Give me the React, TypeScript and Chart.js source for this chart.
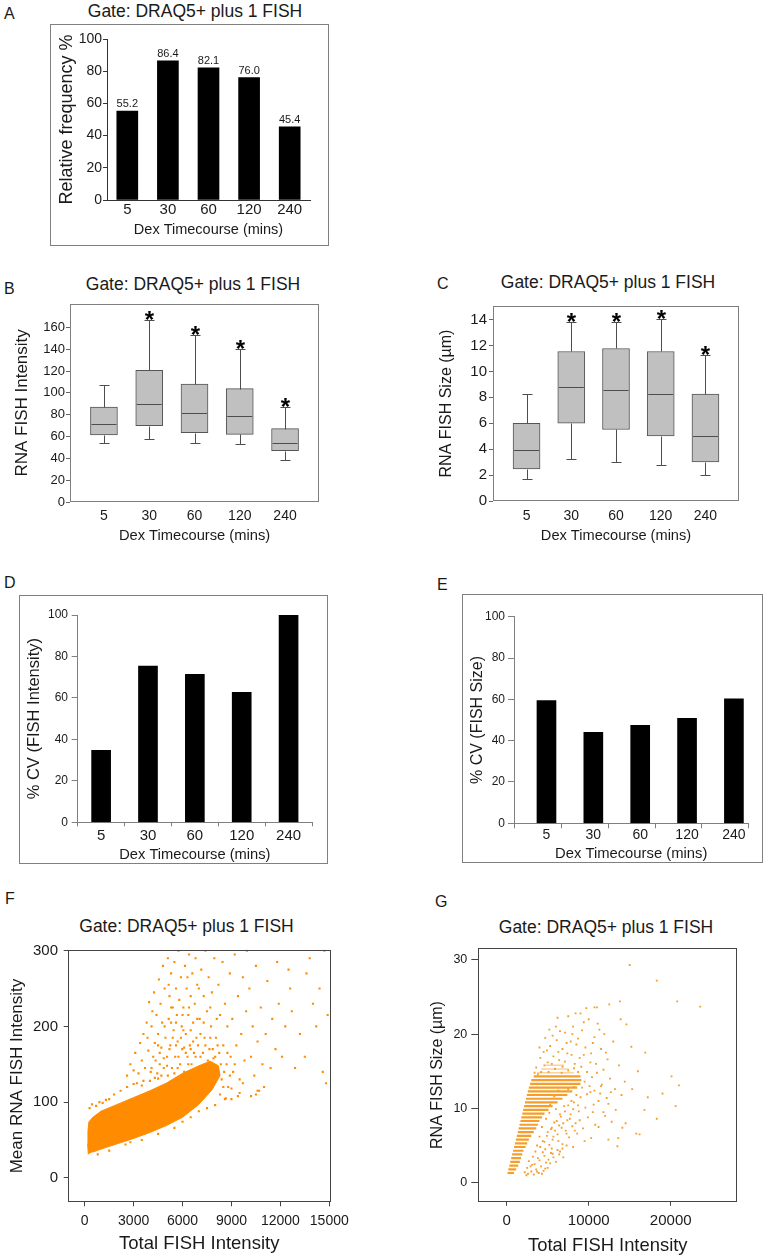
import React, { useEffect, useRef } from 'react';
import { Chart, registerables } from 'chart.js';

Chart.register(...registerables);

const FONT = "'Liberation Sans', Arial, Helvetica, sans-serif";
const TXT = '#1a1a1a';
Chart.defaults.font.family = FONT;
Chart.defaults.color = TXT;

// ---------------- data ----------------
const timeLabels = ['5', '30', '60', '120', '240'];
const relFrequency = [55.2, 86.4, 82.1, 76.0, 45.4];

const intensityLow = [54.2, 57.8, 54.2, 53.0, 38.9];
const intensityQ1 = [61.5, 69.9, 63.6, 62.0, 47.0];
const intensityMedian = [71.7, 89.5, 81.3, 78.6, 54.2];
const intensityQ3 = [87.0, 120.8, 108.2, 104.0, 67.2];
const intensityHigh = [107.0, 167.0, 152.8, 140.7, 86.8];
const intensitySignificant = [false, true, true, true, true];

const sizeLow = [1.7, 3.26, 2.99, 2.76, 2.0];
const sizeQ1 = [2.48, 6.0, 5.52, 5.02, 3.01];
const sizeMedian = [3.96, 8.78, 8.53, 8.25, 4.99];
const sizeQ3 = [6.0, 11.54, 11.77, 11.54, 8.25];
const sizeHigh = [8.25, 13.8, 13.8, 14.05, 11.29];
const sizeSignificant = [false, true, true, true, true];

const cvIntensity = [34.7, 75.4, 71.4, 62.7, 100];
const cvSize = [59.4, 44.0, 47.4, 50.8, 60.3];

const intensityTicks = [0, 20, 40, 60, 80, 100, 120, 140, 160];
const sizeTicks = [0, 2, 4, 6, 8, 10, 12, 14];
const fXTicks = [0, 3000, 6000, 9000, 12000, 15000];
const fYTicks = [0, 100, 200, 300];
const gXTicks = [0, 10000, 20000];
const gYTicks = [0, 10, 20, 30];

// Panel F: outline of the solid cell cloud and scattered cells
const fCloudOutline: [number, number][] = [
  [220, 31], [180, 45], [200, 62], [260, 74], [500, 80], [1000, 88], [2000, 97], [3000, 106],
  [4000, 115], [5000, 125], [6000, 138], [7000, 148], [7700, 154], [8200, 148], [8300, 135],
  [7800, 116], [7000, 97], [6000, 80], [5000, 69], [4000, 60], [3000, 52], [2000, 45], [1000, 38], [500, 34],
];
const fScatter: [number, number][] = [
  [300, 92], [450, 97], [700, 95], [900, 100], [1100, 99], [1300, 103], [1500, 104], [1800, 110],
  [2200, 115], [2600, 120], [3000, 124], [3500, 122], [4000, 128], [4500, 131],
  [800, 31], [1500, 36], [2500, 44], [2800, 47], [3500, 50], [4500, 58], [5500, 66], [6000, 74],
  [6500, 80], [7000, 88], [7500, 92], [8000, 96], [8600, 104], [9000, 104], [9500, 112],
  [10200, 108], [10600, 115], [11000, 120],
  [2600, 135], [2800, 150], [3000, 142], [3100, 165], [3300, 138], [3400, 178], [3500, 155],
  [3600, 190], [3700, 145], [3800, 205], [3900, 168], [3950, 232], [3200, 125], [3600, 128], [3850, 185],
  [4050, 140], [4100, 200], [4200, 160], [4250, 245], [4300, 178], [4400, 215], [4450, 138],
  [4500, 190], [4550, 262], [4600, 150], [4650, 230], [4700, 172], [4750, 205], [4800, 280],
  [4850, 145], [4900, 250], [4950, 185], [4300, 132], [4700, 135], [4150, 220],
  [5050, 160], [5100, 290], [5150, 210], [5200, 240], [5250, 175], [5300, 270], [5350, 145],
  [5400, 225], [5450, 195], [5500, 285], [5550, 160], [5600, 250], [5650, 215], [5700, 180],
  [5750, 300], [5800, 235], [5850, 150], [5900, 265], [5950, 200], [5100, 135], [5500, 138],
  [5300, 205], [5700, 145], [5980, 170],
  [6050, 225], [6100, 140], [6150, 280], [6200, 190], [6250, 250], [6300, 160], [6350, 215],
  [6400, 295], [6450, 175], [6500, 240], [6550, 150], [6600, 270], [6650, 205], [6700, 165],
  [6750, 230], [6800, 290], [6850, 185], [6900, 255], [6950, 145], [6100, 172], [6500, 195], [6800, 135],
  [7050, 210], [7100, 160], [7150, 275], [7200, 140], [7300, 240], [7350, 185], [7400, 300],
  [7450, 150], [7500, 220], [7600, 265], [7650, 170], [7700, 135], [7750, 200], [7800, 245],
  [7900, 158], [7950, 290], [7250, 125], [7850, 120],
  [8050, 185], [8100, 140], [8200, 255], [8250, 165], [8300, 215], [8400, 130], [8450, 285],
  [8500, 175], [8600, 230], [8700, 150], [8750, 200], [8800, 120], [8900, 270], [8950, 160],
  [8300, 110], [8650, 105],
  [9050, 210], [9100, 140], [9200, 295], [9300, 175], [9400, 240], [9500, 130], [9600, 190],
  [9700, 265], [9800, 155], [9900, 220], [9950, 300], [9400, 108],
  [10100, 250], [10200, 160], [10300, 200], [10400, 135], [10500, 280], [10600, 180],
  [10700, 115], [10800, 225], [10900, 150], [10500, 110],
  [11100, 190], [11200, 260], [11400, 145], [11500, 210], [11700, 170], [11800, 285], [11900, 230],
  [12100, 160], [12300, 200], [12500, 275], [12700, 220], [12900, 145], [12600, 250],
  [13200, 190], [13500, 160], [13800, 290], [14000, 230], [14200, 200], [14400, 250], [14600, 140],
  [14700, 300], [14900, 215], [14800, 125], [13600, 270],
  [4100, 145], [4350, 155], [4600, 165], [4850, 158], [5050, 148], [5200, 170], [5400, 185],
  [5600, 175], [5750, 160], [5900, 185], [6050, 195], [6200, 165], [6350, 150], [6500, 170],
  [6650, 180], [6800, 160], [6950, 175], [7100, 190], [7250, 165], [7400, 175], [7550, 155],
  [7700, 185], [7850, 170], [8000, 160], [8150, 175], [8350, 150], [8550, 140], [8750, 165],
  [5600, 205], [6000, 215], [6400, 225], [6900, 210], [7300, 205], [7700, 225], [8100, 210],
  [4500, 175], [4900, 200], [5300, 225], [5150, 255], [6300, 265], [7000, 250],
  [8500, 120], [9000, 118], [9700, 125], [7600, 132], [8900, 135], [9200, 150],
];

// Panel G: quantised size rows (size, start, end of the solid run) and scattered cells
const gRowSize = [1.3, 1.8, 2.3, 2.8, 3.3, 3.8, 4.3, 4.8, 5.3, 5.8, 6.3, 6.8, 7.3, 7.8, 8.3, 8.8, 9.3, 9.8, 10.3, 10.8, 11.3, 11.8, 12.3, 12.8, 13.3, 13.8, 14.3];
const gRowStart = [100, 200, 320, 430, 550, 660, 780, 900, 1000, 1120, 1230, 1350, 1450, 1560, 1680, 1790, 1900, 2000, 2120, 2230, 2350, 2450, 2570, 2700, 2850, 3000, 3300];
const gRowEnd = [900, 1150, 1400, 1600, 1750, 1900, 2050, 2300, 2500, 2700, 3000, 3300, 3600, 3800, 4000, 4300, 4600, 5100, 5600, 6200, 6800, 7400, 8000, 8600, 9000, 9100, 9000];
const gFaintRowSize = [14.8, 15.3, 15.8];
const gFaintRowStart = [3700, 4200, 4700];
const gFaintRowEnd = [8200, 7600, 7000];
const gScatter: [number, number][] = [
  [2600, 1.2], [3000, 1.5], [3300, 1.1], [3600, 1.8], [3900, 1.3], [4200, 2.2], [4500, 1.6],
  [4800, 2.7], [5100, 3.1], [3400, 2.5], [4000, 3.0], [4600, 3.6], [5400, 4.0], [5000, 2.0], [2900, 2.2],
  [3700, 5.0], [4000, 6.2], [4300, 7.5], [4600, 5.5], [4800, 8.6], [5000, 6.8], [5200, 9.4],
  [5400, 7.2], [5600, 5.8], [5800, 8.1], [6000, 9.9], [6200, 6.5], [6400, 7.7], [6600, 8.9],
  [6800, 5.2], [7000, 10.3], [7200, 7.0], [7400, 8.4], [7600, 6.1], [7800, 9.2], [8000, 7.6],
  [8200, 10.8], [8400, 8.0], [8600, 6.6], [8800, 9.6], [9000, 11.5], [9300, 7.3], [9600, 10.1],
  [9900, 8.8], [10200, 12.2], [10500, 9.5], [10800, 7.8], [11200, 11.0], [11600, 13.2],
  [12000, 9.0], [12400, 10.6], [12800, 8.2], [13200, 12.6], [13600, 6.0], [14000, 11.8],
  [5500, 4.6], [6500, 4.2], [7300, 5.0], [8100, 4.8], [4400, 4.1], [9500, 5.6],
  [9200, 12.8], [9500, 13.6], [9800, 11.9], [10100, 13.0], [10400, 14.2], [10700, 12.4],
  [11000, 14.8], [11400, 12.0], [11800, 15.2], [12200, 11.4], [12600, 14.0],
  [3600, 15.5], [4100, 16.8], [4500, 17.6], [5000, 16.2], [5300, 18.4], [5700, 17.0], [6100, 19.2],
  [6400, 16.5], [6800, 18.0], [7100, 20.2], [7400, 17.4], [7800, 19.0], [8100, 21.0], [8500, 18.6],
  [8900, 16.8], [9200, 20.5], [9600, 18.2], [10000, 22.0], [10300, 17.4], [10700, 19.6],
  [11100, 21.4], [11500, 18.0], [11900, 20.0], [12300, 16.6], [4700, 19.5], [6000, 21.0],
  [7500, 22.4], [9000, 22.8], [6800, 15.6], [8200, 15.4],
  [10300, 6.0], [10600, 10.5], [10900, 16.0], [11200, 7.5], [11500, 13.0], [11800, 9.5],
  [12100, 17.5], [12400, 5.8], [12700, 12.2], [13000, 19.0], [13300, 9.8], [13700, 15.8],
  [14100, 7.4], [14400, 13.6], [14600, 21.3], [13900, 22.0], [11300, 20.6], [10500, 18.8],
  [16900, 17.5], [16000, 15.0], [15200, 18.3],
  [10700, 23.6], [11000, 23.6], [12500, 24.0], [13800, 24.4], [15000, 29.3], [18300, 27.2],
  [18300, 8.6], [19000, 12.0], [20100, 14.3], [20600, 10.3], [20800, 24.4], [21000, 13.1],
  [23600, 23.7], [15800, 6.6], [16200, 6.5], [13500, 4.9], [17200, 11.5], [16800, 9.8],
  [14500, 8.0], [15300, 12.6],
  [2200, 1.4], [2500, 2.0], [2700, 2.9], [3100, 2.4], [3200, 3.5], [3500, 4.2], [3800, 3.3],
  [4100, 4.8], [4400, 5.6], [4700, 4.5], [4900, 6.3], [5200, 5.1], [5500, 7.4], [5700, 6.2],
  [5900, 7.0], [6100, 8.3], [6300, 5.6], [6500, 9.2], [6700, 7.4], [6900, 8.0], [7100, 9.6],
  [7300, 6.6], [7500, 10.4], [7700, 8.6], [7900, 11.0], [8100, 9.9], [8300, 7.0], [8500, 11.8],
  [8700, 10.4], [8900, 8.4], [5300, 10.5], [5800, 11.6], [6300, 12.4], [6900, 11.8], [7500, 12.6],
  [8200, 12.9],
  [4200, 14.9], [4600, 15.8], [5100, 14.9], [5500, 16.0], [5900, 15.3], [6300, 17.6], [6700, 14.8],
  [7100, 16.3], [7500, 15.1], [7900, 17.2], [8300, 16.0], [8700, 14.9], [9100, 15.6], [9400, 17.2],
  [9800, 14.9], [10200, 16.2], [4900, 17.8], [5600, 19.8], [6500, 20.4], [7300, 18.8], [8000, 20.0],
  [8700, 19.4], [9400, 21.6], [5200, 20.6], [6200, 22.2], [8400, 22.8], [9700, 23.5], [4000, 18.2],
  [3800, 14.6], [3400, 14.8],
  [2400, 1.0], [3700, 1.5], [4300, 1.2], [4700, 1.9], [5300, 2.6], [5700, 3.4], [6000, 2.8],
  [6400, 3.8], [6900, 3.4], [5600, 3.9], [6200, 4.4], [6800, 4.6],
];

// ---------------- layout helpers ----------------
type Geo = {
  cx: number; cy: number; cw: number; ch: number;
  left: number; right: number; top: number; bottom: number;
  yTitleX: number; yTitleSize: number; xTitleY: number; xTitleSize: number;
};
type Fit = { padding: { left: number; top: number; right: number; bottom: number }; yWidth: number; xHeight: number };

function computeFit(g: Geo): Fit {
  const padLeft = g.yTitleX - g.cx - 0.6 * g.yTitleSize;
  const padBottom = g.cy + g.ch - (g.xTitleY + 0.6 * g.xTitleSize);
  return {
    padding: { left: padLeft, top: g.top - g.cy, right: g.cx + g.cw - g.right, bottom: padBottom },
    yWidth: g.left - g.cx - padLeft,
    xHeight: g.xTitleY + 0.6 * g.xTitleSize - g.bottom,
  };
}

const geoA: Geo = { cx: 0, cy: 20, cw: 383, ch: 230, left: 107, right: 310, top: 39, bottom: 200, yTitleX: 67, yTitleSize: 18, xTitleY: 230, xTitleSize: 14.5 };
const geoB: Geo = { cx: 0, cy: 295, cw: 383, ch: 255, left: 70, right: 319, top: 301, bottom: 502, yTitleX: 22.5, yTitleSize: 17, xTitleY: 536, xTitleSize: 14.7 };
const geoC: Geo = { cx: 400, cy: 295, cw: 367, ch: 255, left: 493, right: 739, top: 301, bottom: 501, yTitleX: 447, yTitleSize: 16, xTitleY: 536, xTitleSize: 14.6 };
const geoD: Geo = { cx: 0, cy: 590, cw: 383, ch: 280, left: 77.7, right: 312, top: 615, bottom: 822.3, yTitleX: 34, yTitleSize: 16.5, xTitleY: 855, xTitleSize: 14.7 };
const geoE: Geo = { cx: 400, cy: 590, cw: 367, ch: 280, left: 514, right: 748.3, top: 616.7, bottom: 823.3, yTitleX: 478, yTitleSize: 16, xTitleY: 854, xTitleSize: 14.8 };
const geoF: Geo = { cx: 0, cy: 935, cw: 383, ch: 325, left: 67.7, right: 330.7, top: 944.3, bottom: 1202.3, yTitleX: 17.5, yTitleSize: 17, xTitleY: 1244, xTitleSize: 18.5 };
const geoG: Geo = { cx: 400, cy: 935, cw: 367, ch: 325, left: 478.3, right: 737.3, top: 948.3, bottom: 1201.7, yTitleX: 437.5, yTitleSize: 16, xTitleY: 1245.7, xTitleSize: 18.4 };

const E_BAR_SHIFT = 0.693;
const F_ORANGE = '#ff8c00';
const G_ORANGE = '#f59e2c';

function baseOptions(f: Fit) {
  return {
    animation: false,
    responsive: false,
    maintainAspectRatio: false,
    devicePixelRatio: 1,
    events: [],
    layout: { padding: f.padding },
    plugins: { legend: { display: false }, tooltip: { enabled: false }, title: { display: false } },
  };
}

const axisTitle = (text: string, size: number) => ({ display: true, text, color: TXT, font: { family: FONT, size }, padding: 0 });
const fixedTicks = (values: number[]) => (s: any) => { s.ticks = values.map((value) => ({ value })); };
const categoryIndexTicks = fixedTicks(timeLabels.map((_, i) => i));

function framePlugin(color: string, width: number) {
  return {
    id: 'areaFrame',
    afterDatasetsDraw(chart: any) {
      const a = chart.chartArea;
      const ctx = chart.ctx;
      ctx.save();
      ctx.strokeStyle = color;
      ctx.lineWidth = width;
      const l = Math.round(a.left) + 0.5;
      const t = Math.round(a.top) + 0.5;
      const r = Math.round(a.right) - 0.5;
      const b = Math.round(a.bottom) - 0.5;
      ctx.strokeRect(l, t, r - l, b - t);
      ctx.restore();
    },
  };
}

function boxPlotPlugin(q1: number[], med: number[], q3: number[], lo: number[], hi: number[], sig: boolean[], capHalf: number) {
  return {
    id: 'boxWhiskers',
    afterDatasetsDraw(chart: any) {
      const ctx = chart.ctx;
      const xs = chart.scales.x;
      const ys = chart.scales.y;
      const bars = chart.getDatasetMeta(0).data;
      const py = (v: number) => Math.round(ys.getPixelForValue(v)) + 0.5;
      ctx.save();
      ctx.strokeStyle = '#4d4d4d';
      ctx.lineWidth = 1;
      bars.forEach((bar: any, i: number) => {
        const x = Math.round(xs.getPixelForValue(i)) + 0.5;
        const hw = bar.width / 2;
        ctx.beginPath();
        ctx.moveTo(x, py(q3[i])); ctx.lineTo(x, py(hi[i]));
        ctx.moveTo(x - capHalf, py(hi[i])); ctx.lineTo(x + capHalf, py(hi[i]));
        ctx.moveTo(x, py(q1[i])); ctx.lineTo(x, py(lo[i]));
        ctx.moveTo(x - capHalf, py(lo[i])); ctx.lineTo(x + capHalf, py(lo[i]));
        ctx.moveTo(bar.x - hw + 1, py(med[i])); ctx.lineTo(bar.x + hw - 1, py(med[i]));
        ctx.stroke();
        if (sig[i]) {
          ctx.fillStyle = '#000';
          ctx.font = `bold 24px ${FONT}`;
          ctx.textAlign = 'center';
          ctx.textBaseline = 'alphabetic';
          ctx.fillText('*', x, ys.getPixelForValue(hi[i]) + 8);
        }
      });
      ctx.restore();
    },
  };
}

const barValueLabels = {
  id: 'barValueLabels',
  afterDatasetsDraw(chart: any) {
    const ctx = chart.ctx;
    const meta = chart.getDatasetMeta(0);
    ctx.save();
    ctx.font = `11px ${FONT}`;
    ctx.fillStyle = TXT;
    ctx.textAlign = 'center';
    ctx.textBaseline = 'alphabetic';
    meta.data.forEach((bar: any, i: number) => {
      ctx.fillText(relFrequency[i].toFixed(1), bar.x, bar.y - 4);
    });
    ctx.restore();
  },
};

const boundaryTicksE = {
  id: 'boundaryTicks',
  afterDraw(chart: any) {
    const ctx = chart.ctx;
    const xs = chart.scales.x;
    const bottom = chart.chartArea.bottom;
    ctx.save();
    ctx.strokeStyle = '#7f7f7f';
    ctx.lineWidth = 1;
    ctx.beginPath();
    for (let k = 0; k <= timeLabels.length; k++) {
      const x = Math.round(xs.getPixelForValue(k - E_BAR_SHIFT)) + 0.5;
      ctx.moveTo(x, bottom);
      ctx.lineTo(x, bottom + 5);
    }
    ctx.stroke();
    ctx.restore();
  },
};

const labelFor = (v: any) => (timeLabels[v as number] !== undefined ? timeLabels[v as number] : '');

// ---------------- chart configs ----------------
const makeA = (f: Fit) => ({
  type: 'bar',
  data: { labels: timeLabels, datasets: [{ data: relFrequency, backgroundColor: '#000', borderWidth: 0, barThickness: 21 }] },
  options: {
    ...baseOptions(f),
    scales: {
      x: {
        afterFit: (s: any) => { s.height = f.xHeight; },
        grid: { display: false, drawTicks: false },
        border: { color: '#333' },
        ticks: { padding: 1, font: { size: 15 }, color: TXT, maxRotation: 0, autoSkip: false },
        title: axisTitle('Dex Timecourse (mins)', 14.5),
      },
      y: {
        min: 0, max: 100,
        afterFit: (s: any) => { s.width = f.yWidth; },
        ticks: { stepSize: 20, padding: 1, font: { size: 14 }, color: TXT },
        grid: { drawOnChartArea: false, tickLength: 4, color: '#333' },
        border: { color: '#333' },
        title: axisTitle('Relative frequency %', 18),
      },
    },
  },
  plugins: [barValueLabels],
});

function makeBox(
  f: Fit, q1: number[], med: number[], q3: number[], lo: number[], hi: number[], sig: boolean[],
  yMax: number, yTicks: number[], yTickSize: number, yPad: number, xPad: number,
  yTitle: string, yTitleSize: number, xTitleSize: number, capHalf: number,
) {
  return {
    type: 'bar',
    data: {
      datasets: [{
        data: q1.map((v, i) => ({ x: i, y: [v, q3[i]] })),
        backgroundColor: '#c0c0c0', borderColor: '#555', borderWidth: 1, borderSkipped: false, barThickness: 27,
      }],
    },
    options: {
      ...baseOptions(f),
      scales: {
        x: {
          type: 'linear', min: -0.75, max: 4.75, offset: false,
          afterFit: (s: any) => { s.height = f.xHeight; },
          afterBuildTicks: categoryIndexTicks,
          grid: { display: false, drawTicks: false, offset: false },
          border: { display: false },
          ticks: { callback: labelFor, padding: xPad, font: { size: 14 }, color: TXT, maxRotation: 0, autoSkip: false },
          title: axisTitle('Dex Timecourse (mins)', xTitleSize),
        },
        y: {
          min: 0, max: yMax,
          afterFit: (s: any) => { s.width = f.yWidth; },
          afterBuildTicks: fixedTicks(yTicks),
          ticks: { padding: yPad, font: { size: yTickSize }, color: TXT },
          grid: { drawOnChartArea: false, tickLength: 4, color: '#666' },
          border: { display: false },
          title: axisTitle(yTitle, yTitleSize),
        },
      },
    },
    plugins: [framePlugin('#7f7f7f', 1), boxPlotPlugin(q1, med, q3, lo, hi, sig, capHalf)],
  };
}

const makeB = (f: Fit) => makeBox(f, intensityQ1, intensityMedian, intensityQ3, intensityLow, intensityHigh, intensitySignificant,
  181.7, intensityTicks, 13, 1, 5.6, 'RNA FISH Intensity', 17, 14.7, 5);
const makeC = (f: Fit) => makeBox(f, sizeQ1, sizeMedian, sizeQ3, sizeLow, sizeHigh, sizeSignificant,
  15.05, sizeTicks, 15, 2, 6.6, 'RNA FISH Size (µm)', 16, 14.6, 5);

const makeD = (f: Fit) => ({
  type: 'bar',
  data: { labels: timeLabels, datasets: [{ data: cvIntensity, backgroundColor: '#000', borderWidth: 0, barThickness: 19 }] },
  options: {
    ...baseOptions(f),
    scales: {
      x: {
        offset: true,
        afterFit: (s: any) => { s.height = f.xHeight; },
        grid: { display: true, drawOnChartArea: false, offset: true, tickLength: 4, color: '#7f7f7f' },
        border: { color: '#7f7f7f' },
        ticks: { padding: 0.4, font: { size: 15 }, color: TXT, maxRotation: 0, autoSkip: false },
        title: axisTitle('Dex Timecourse (mins)', 14.7),
      },
      y: {
        min: 0, max: 100,
        afterFit: (s: any) => { s.width = f.yWidth; },
        ticks: { stepSize: 20, padding: 3.7, font: { size: 12 }, color: TXT },
        grid: { drawOnChartArea: false, tickLength: 6, color: '#7f7f7f' },
        border: { color: '#7f7f7f' },
        title: axisTitle('% CV (FISH Intensity)', 16.5),
      },
    },
  },
});

const makeE = (f: Fit) => ({
  type: 'bar',
  data: { datasets: [{ data: cvSize.map((v, i) => ({ x: i, y: v })), backgroundColor: '#000', borderWidth: 0, barThickness: 19 }] },
  options: {
    ...baseOptions(f),
    scales: {
      x: {
        type: 'linear', min: -E_BAR_SHIFT, max: timeLabels.length - E_BAR_SHIFT, offset: false,
        afterFit: (s: any) => { s.height = f.xHeight; },
        afterBuildTicks: categoryIndexTicks,
        grid: { display: false, drawTicks: false, offset: false },
        border: { color: '#7f7f7f' },
        ticks: { callback: labelFor, padding: 3.3, font: { size: 14 }, color: TXT, maxRotation: 0, autoSkip: false },
        title: axisTitle('Dex Timecourse (mins)', 14.8),
      },
      y: {
        min: 0, max: 100,
        afterFit: (s: any) => { s.width = f.yWidth; },
        ticks: { stepSize: 20, padding: 3, font: { size: 12 }, color: TXT },
        grid: { drawOnChartArea: false, tickLength: 6, color: '#7f7f7f' },
        border: { color: '#7f7f7f' },
        title: axisTitle('% CV (FISH Size)', 16),
      },
    },
  },
  plugins: [boundaryTicksE],
});

const toXY = (pts: [number, number][]) => pts.map(([x, y]) => ({ x, y }));

const makeF = (f: Fit) => ({
  type: 'scatter',
  data: {
    datasets: [
      { data: toXY(fScatter), pointRadius: 1.5, pointStyle: 'rect', backgroundColor: F_ORANGE, borderWidth: 0 },
      { type: 'line', data: toXY(fCloudOutline), fill: 'shape', backgroundColor: F_ORANGE, borderColor: F_ORANGE, borderWidth: 1, pointRadius: 0, tension: 0 },
    ],
  },
  options: {
    ...baseOptions(f),
    scales: {
      x: {
        type: 'linear', min: -1043, max: 15086,
        afterFit: (s: any) => { s.height = f.xHeight; },
        afterBuildTicks: fixedTicks(fXTicks),
        ticks: { callback: (v: any) => String(v), padding: 6, font: { size: 14 }, color: TXT, maxRotation: 0, autoSkip: false },
        grid: { drawOnChartArea: false, tickLength: 4, color: '#444' },
        border: { display: false },
        title: axisTitle('Total FISH Intensity', 18.5),
      },
      y: {
        type: 'linear', min: -32.3, max: 301.3,
        afterFit: (s: any) => { s.width = f.yWidth; },
        afterBuildTicks: fixedTicks(fYTicks),
        ticks: { padding: 5.7, font: { size: 15 }, color: TXT },
        grid: { drawOnChartArea: false, tickLength: 4, color: '#444' },
        border: { display: false },
        title: axisTitle('Mean RNA FISH Intensity', 17),
      },
    },
  },
  plugins: [framePlugin('#444', 1)],
});

function rowsToSegments(sizes: number[], starts: number[], ends: number[]) {
  const out: { x: number; y: number | null }[] = [];
  sizes.forEach((y, i) => {
    out.push({ x: starts[i], y }, { x: ends[i], y }, { x: ends[i], y: null });
  });
  return out;
}

const makeG = (f: Fit) => ({
  type: 'scatter',
  data: {
    datasets: [
      { data: toXY(gScatter), pointRadius: 1.3, pointStyle: 'rect', backgroundColor: G_ORANGE, borderWidth: 0 },
      { type: 'line', data: rowsToSegments(gRowSize, gRowStart, gRowEnd), borderColor: G_ORANGE, borderWidth: 2.2, pointRadius: 0, fill: false, spanGaps: false, borderCapStyle: 'butt' },
      { type: 'line', data: rowsToSegments(gFaintRowSize, gFaintRowStart, gFaintRowEnd), borderColor: 'rgba(245,158,44,0.45)', borderWidth: 1.6, pointRadius: 0, fill: false, spanGaps: false, borderCapStyle: 'butt' },
    ],
  },
  options: {
    ...baseOptions(f),
    scales: {
      x: {
        type: 'linear', min: -3463, max: 28120,
        afterFit: (s: any) => { s.height = f.xHeight; },
        afterBuildTicks: fixedTicks(gXTicks),
        ticks: { callback: (v: any) => String(v), padding: 6, font: { size: 15 }, color: TXT, maxRotation: 0, autoSkip: false },
        grid: { drawOnChartArea: false, tickLength: 4, color: '#444' },
        border: { display: false },
        title: axisTitle('Total FISH Intensity', 18.4),
      },
      y: {
        type: 'linear', min: -2.56, max: 31.55,
        afterFit: (s: any) => { s.width = f.yWidth; },
        afterBuildTicks: fixedTicks(gYTicks),
        ticks: { padding: 4, font: { size: 12.5 }, color: TXT },
        grid: { drawOnChartArea: false, tickLength: 7, color: '#444' },
        border: { display: false },
        title: axisTitle('RNA FISH Size (µm)', 16),
      },
    },
  },
  plugins: [framePlugin('#444', 1)],
});

// ---------------- components ----------------
function ChartCanvas({ geo, make }: { geo: Geo; make: (f: Fit) => any }) {
  const ref = useRef<HTMLCanvasElement | null>(null);
  useEffect(() => {
    if (!ref.current) return;
    const chart = new Chart(ref.current, make(computeFit(geo)));
    return () => chart.destroy();
  }, []);
  return (
    <canvas
      ref={ref}
      width={geo.cw}
      height={geo.ch}
      style={{ position: 'absolute', left: geo.cx, top: geo.cy, width: geo.cw, height: geo.ch }}
    />
  );
}

const panelLetters = [
  { t: 'A', x: 4, y: 14 }, { t: 'B', x: 4, y: 289 }, { t: 'C', x: 437, y: 284 },
  { t: 'D', x: 4, y: 583 }, { t: 'E', x: 437, y: 585 }, { t: 'F', x: 5, y: 899 }, { t: 'G', x: 435, y: 901.5 },
];
const gateTitles = [
  { x: 195, y: 12 }, { x: 193, y: 285 }, { x: 608, y: 283 }, { x: 186.5, y: 927 }, { x: 606, y: 928.3 },
];
const outerFrames = [
  { l: 50, t: 24, w: 279, h: 222 },
  { l: 19, t: 595, w: 309, h: 269 },
  { l: 462, t: 594, w: 301, h: 269 },
];

export default function App() {
  return (
    <div style={{ position: 'absolute', left: 0, top: 0, width: 767, height: 1260, background: '#fff', overflow: 'hidden', fontFamily: FONT, color: TXT }}>
      {outerFrames.map((fr, i) => (
        <div key={'fr' + i} style={{ position: 'absolute', left: fr.l, top: fr.t, width: fr.w, height: fr.h, border: '1px solid #808080', boxSizing: 'border-box' }} />
      ))}
      {panelLetters.map((p) => (
        <div key={p.t} style={{ position: 'absolute', left: p.x, top: p.y - 8, fontSize: 16, lineHeight: '16px', whiteSpace: 'nowrap' }}>{p.t}</div>
      ))}
      {gateTitles.map((g, i) => (
        <div key={'gt' + i} style={{ position: 'absolute', left: g.x - 150, top: g.y - 9, width: 300, textAlign: 'center', fontSize: 17.5, lineHeight: '17.5px', whiteSpace: 'nowrap' }}>
          Gate: DRAQ5+ plus 1 FISH
        </div>
      ))}
      <ChartCanvas geo={geoA} make={makeA} />
      <ChartCanvas geo={geoB} make={makeB} />
      <ChartCanvas geo={geoC} make={makeC} />
      <ChartCanvas geo={geoD} make={makeD} />
      <ChartCanvas geo={geoE} make={makeE} />
      <ChartCanvas geo={geoF} make={makeF} />
      <ChartCanvas geo={geoG} make={makeG} />
    </div>
  );
}
